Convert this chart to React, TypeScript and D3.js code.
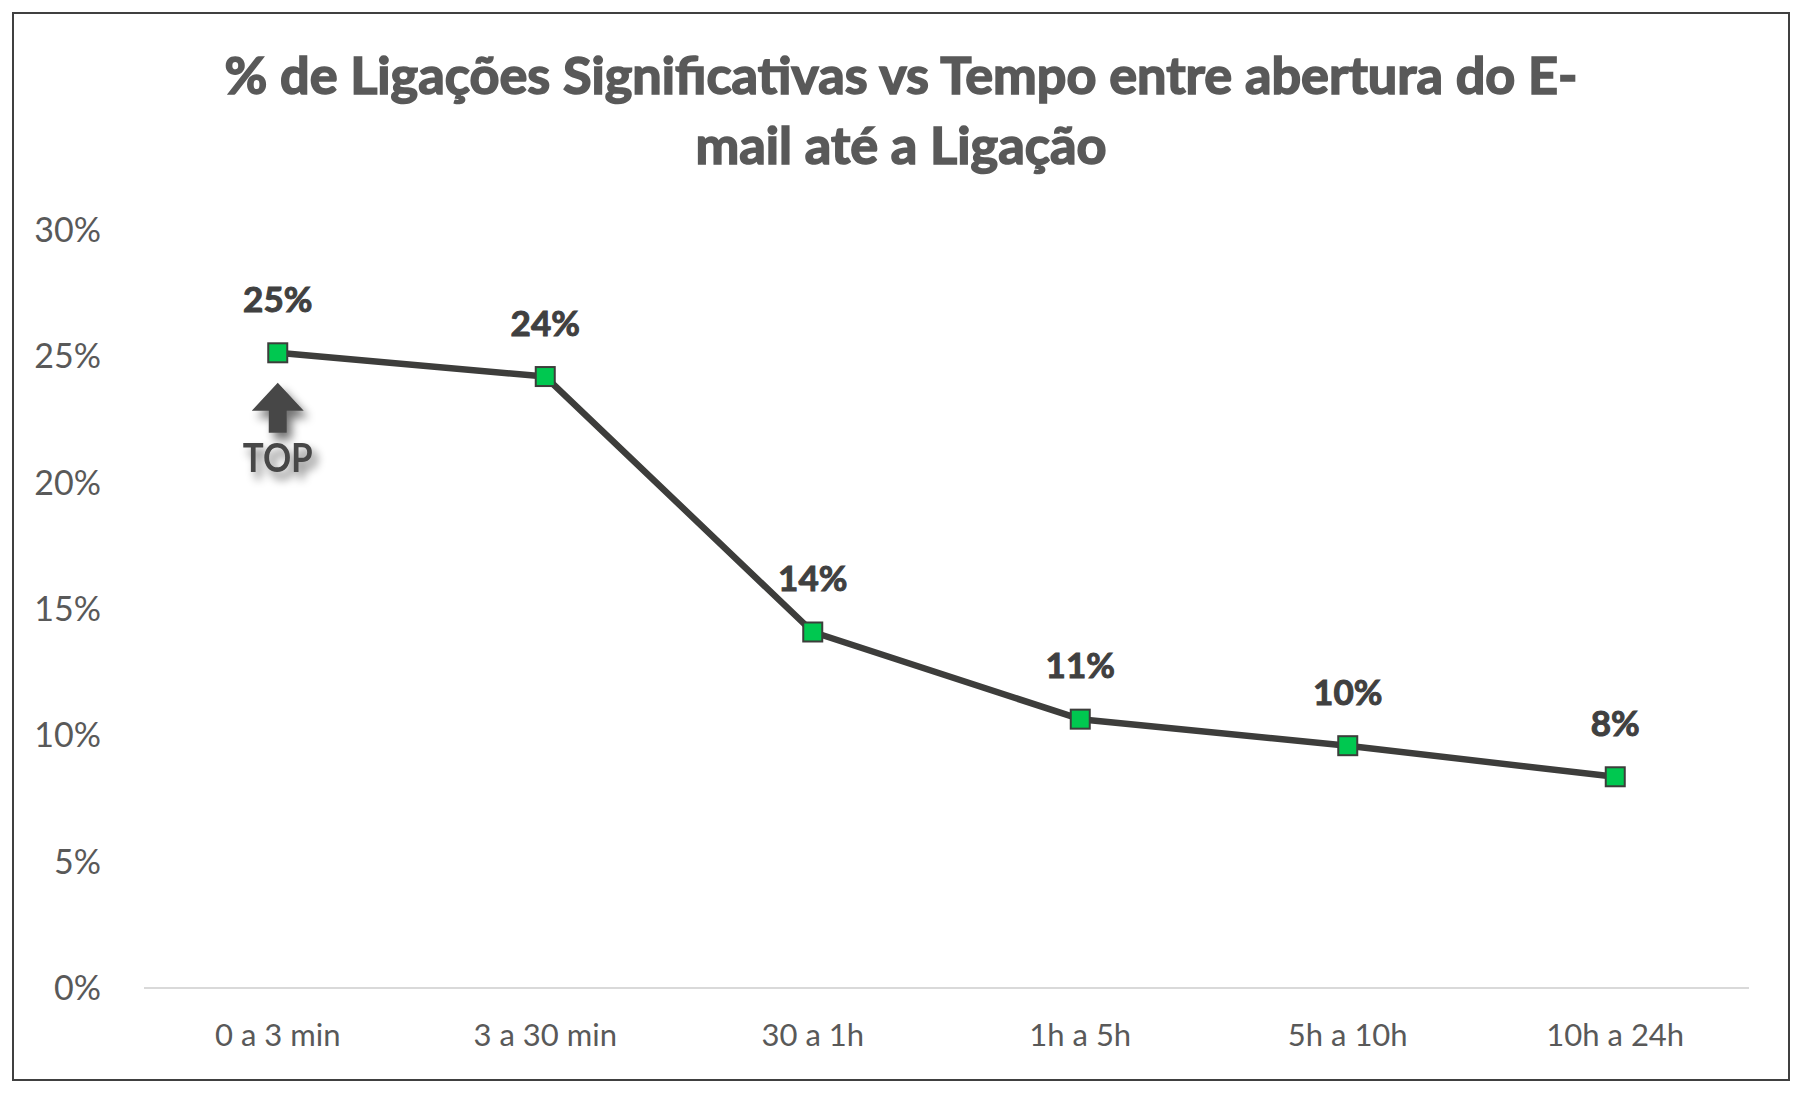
import React from "react";
import * as d3 from "d3";

const categories = ["0 a 3 min", "3 a 30 min", "30 a 1h", "1h a 5h", "5h a 10h", "10h a 24h"];
const values = [0.2514, 0.242, 0.1409, 0.1064, 0.0959, 0.0836];
const valueLabels = ["25%", "24%", "14%", "11%", "10%", "8%"];
const yTicks = [0, 0.05, 0.1, 0.15, 0.2, 0.25, 0.3];
const titleLines = ["% de Ligações Significativas vs Tempo entre abertura do E-", "mail até a Ligação"];

const W = 1802;
const H = 1094;
const FONT = "Lato, 'Open Sans', sans-serif";

export default function App() {
  const left = 144, right = 1749, top = 230, bottom = 988;
  const x = d3.scaleBand<string>().domain(categories).range([left, right]);
  const y = d3.scaleLinear().domain([0, 0.3]).range([bottom, top]);
  const cx = (c: string) => (x(c) as number) + x.bandwidth() / 2;
  const line = d3.line<number>().x((_, i) => cx(categories[i])).y((v) => y(v));
  const fmt = d3.format(".0%");
  const x0 = cx(categories[0]);
  const y0 = y(values[0]);
  const arrowTop = y0 + 30;
  const arrow = `M${x0},${arrowTop} L${x0 + 26},${arrowTop + 28} L${x0 + 9},${arrowTop + 28} L${x0 + 9},${arrowTop + 50} L${x0 - 9},${arrowTop + 50} L${x0 - 9},${arrowTop + 28} L${x0 - 26},${arrowTop + 28} Z`;

  return (
    <svg width={W} height={H} style={{ display: "block", position: "absolute", left: 0, top: 0 }}>
      <defs>
        <filter id="shadow" x="-50%" y="-50%" width="200%" height="200%">
          <feGaussianBlur in="SourceAlpha" stdDeviation="5" />
          <feOffset dx="5" dy="7" result="b" />
          <feComponentTransfer>
            <feFuncA type="linear" slope="0.55" />
          </feComponentTransfer>
          <feMerge>
            <feMergeNode />
            <feMergeNode in="SourceGraphic" />
          </feMerge>
        </filter>
      </defs>
      <rect x={0} y={0} width={W} height={H} fill="#ffffff" />
      <rect x={13} y={13} width={1776} height={1067} fill="#ffffff" stroke="#404040" strokeWidth={2} />
      {titleLines.map((t, i) => (
        <text
          key={i}
          x={901}
          y={94 + i * 70}
          textAnchor="middle"
          fontFamily={FONT}
          fontWeight={700}
          fontSize={51}
          fill="#595959"
          stroke="#595959"
          strokeWidth={1.6}
          textLength={i === 0 ? 1353 : 411}
          lengthAdjust="spacingAndGlyphs"
        >
          {t}
        </text>
      ))}
      {yTicks.map((t) => (
        <text key={t} x={101} y={y(t) + 12} textAnchor="end" fontFamily={FONT} fontSize={34} fill="#595959">
          {fmt(t)}
        </text>
      ))}
      <line x1={left} x2={right} y1={y(0)} y2={y(0)} stroke="#d9d9d9" strokeWidth={2} />
      {categories.map((c) => (
        <text key={c} x={cx(c)} y={1046} textAnchor="middle" fontFamily={FONT} fontSize={31} fill="#595959">
          {c}
        </text>
      ))}
      <path d={line(values) as string} fill="none" stroke="#3d3d3b" strokeWidth={6.5} strokeLinejoin="round" />
      {values.map((v, i) => (
        <rect
          key={i}
          x={cx(categories[i]) - 9.5}
          y={y(v) - 9.5}
          width={19}
          height={19}
          fill="#00c850"
          stroke="#3d3d3b"
          strokeWidth={2}
        />
      ))}
      {values.map((v, i) => (
        <text
          key={i}
          x={cx(categories[i])}
          y={y(v) - 41}
          textAnchor="middle"
          fontFamily={FONT}
          fontWeight={700}
          fontSize={35}
          fill="#404040"
          stroke="#404040"
          strokeWidth={1}
        >
          {valueLabels[i]}
        </text>
      ))}
      <g filter="url(#shadow)">
        <path d={arrow} fill="#474747" />
        <text x={x0} y={y0 + 119} textAnchor="middle" fontFamily={FONT} fontWeight={700} fontSize={40} fill="#474747" textLength={70} lengthAdjust="spacingAndGlyphs">
          TOP
        </text>
      </g>
    </svg>
  );
}
